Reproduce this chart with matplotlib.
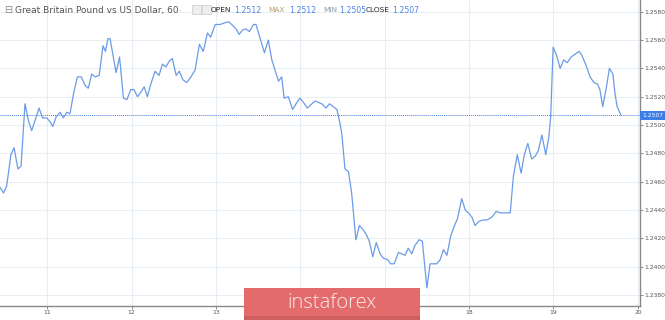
import matplotlib.pyplot as plt
import matplotlib.transforms as mtransforms
from matplotlib.patches import Rectangle

# Hourly GBP/USD quotes (hours counted from the start of day 11, weekend removed)
hours = [-13.4, -12.4, -11.5, -10.3, -9.4, -8.3, -7.4, -6.3, -5.3, -4.4, -3.2, -2.3, -1.3, -0.1,
         0.9, 1.6, 2.6, 3.7, 4.6, 5.6, 6.5, 7.5, 8.6, 9.7, 10.8, 11.7, 12.7, 13.6, 14.8, 15.9,
         16.6, 17.3, 17.9, 18.9, 19.6, 20.6, 21.7, 22.7, 23.8, 24.7, 25.7, 26.6, 27.6, 28.5,
         29.5, 30.7, 31.8, 32.8, 33.8, 34.7, 35.6, 36.7, 37.6, 38.6, 39.7, 40.9, 42.1, 43.3,
         44.4, 45.6, 46.5, 47.8, 49.2, 50.3, 51.6, 52.5, 53.7, 54.6, 55.5, 56.5, 57.5, 58.7,
         59.4, 60.6, 61.8, 62.9, 63.9, 64.8, 65.8, 66.7, 67.4, 68.6, 69.8, 70.8, 71.9, 72.9,
         74.0, 75.3, 76.2, 77.1, 78.1, 79.3, 80.3, 81.4, 82.4, 83.3, 83.8, 84.7, 85.7, 86.6,
         87.8, 88.8, 89.9, 90.9, 91.6, 92.6, 93.6, 94.7, 95.6, 96.8, 97.7, 98.7, 99.9, 100.9,
         101.8, 102.7, 103.7, 104.6, 105.8, 106.7, 108.0, 108.9, 110.8, 111.8, 112.7, 113.7,
         114.8, 115.7, 116.7, 117.9, 118.9, 119.8, 120.8, 121.7, 122.8, 124.1, 125.2, 126.5,
         127.7, 128.8, 130.2, 131.7, 132.6, 133.7, 134.8, 135.7, 136.7, 137.8, 138.8, 139.7,
         140.7, 141.8, 142.7, 143.2, 143.9, 144.9, 145.9, 146.9, 147.9, 149.0, 150.1, 151.3,
         152.1, 153.3, 154.4, 155.5, 156.5, 157.2, 158.0, 159.0, 159.9, 160.9, 161.5, 162.1,
         162.8, 163.2]
prices = [1.2456, 1.2452, 1.2457, 1.2479, 1.2484, 1.2469, 1.2471, 1.2515, 1.2503, 1.2496,
          1.2505, 1.2512, 1.2505, 1.2505, 1.2502, 1.2499, 1.2506, 1.2509, 1.2505, 1.2509,
          1.2508, 1.2522, 1.2534, 1.2534, 1.2528, 1.2526, 1.2536, 1.2534, 1.2535, 1.2556,
          1.2552, 1.2561, 1.2561, 1.2547, 1.2537, 1.2548, 1.2519, 1.2518, 1.2525, 1.2525,
          1.2520, 1.2523, 1.2527, 1.2520, 1.2529, 1.2538, 1.2535, 1.2543, 1.2541, 1.2545,
          1.2547, 1.2535, 1.2538, 1.2532, 1.2530, 1.2534, 1.2539, 1.2557, 1.2552, 1.2565,
          1.2562, 1.2571, 1.2571, 1.2572, 1.2573, 1.2571, 1.2568, 1.2564, 1.2567, 1.2568,
          1.2566, 1.2571, 1.2571, 1.2561, 1.2551, 1.2560, 1.2546, 1.2539, 1.2531, 1.2534,
          1.2519, 1.2520, 1.2511, 1.2515, 1.2519, 1.2516, 1.2512, 1.2515, 1.2517, 1.2516,
          1.2515, 1.2512, 1.2515, 1.2513, 1.2511, 1.2501, 1.2494, 1.2469, 1.2467, 1.2452,
          1.2419, 1.2429, 1.2426, 1.2422, 1.2418, 1.2407, 1.2417, 1.2409, 1.2406, 1.2405,
          1.2402, 1.2402, 1.2410, 1.2409, 1.2408, 1.2413, 1.2409, 1.2415, 1.2419, 1.2418,
          1.2385, 1.2402, 1.2402, 1.2405, 1.2412, 1.2408, 1.2422, 1.2428, 1.2434, 1.2448,
          1.2440, 1.2438, 1.2435, 1.2429, 1.2432, 1.2433, 1.2433, 1.2435, 1.2439, 1.2438,
          1.2438, 1.2438, 1.2464, 1.2479, 1.2466, 1.2479, 1.2487, 1.2476, 1.2478, 1.2482,
          1.2493, 1.2479, 1.2492, 1.2506, 1.2555, 1.2549, 1.2540, 1.2546, 1.2544, 1.2548,
          1.2550, 1.2552, 1.2549, 1.2542, 1.2534, 1.2530, 1.2529, 1.2525, 1.2513, 1.2526,
          1.2540, 1.2536, 1.2522, 1.2513, 1.2509, 1.2507]

day_ticks = [0, 24, 48, 72, 96, 120, 144, 168]
day_labels = ["11", "12", "13", "14", "17", "18", "19", "20"]
hidden_days = ["14", "17"]  # covered by the logo in the original
price_ticks = [1.2380, 1.2400, 1.2420, 1.2440, 1.2460, 1.2480, 1.2500,
               1.2520, 1.2540, 1.2560, 1.2580]
last_price = 1.2507
header_values = ["1.2512", "1.2512", "1.2505", "1.2507"]

line_color = "#6b9be6"
grid_color = "#e8eef4"
text_gray = "#555555"

fig = plt.figure(figsize=(6.65, 3.2), dpi=100)
ax = fig.add_axes([0.0, 0.04375, 0.9624, 0.95625])

ax.plot(hours, prices, color=line_color, linewidth=0.9, zorder=3)

# last price dotted line
ax.axhline(last_price, color="#4a7fe0", linestyle=(0, (1, 1)), linewidth=0.7, zorder=2)

ax.set_xlim(-13.4, 168.6)
ax.set_ylim(1.23722, 1.25883)

ax.set_xticks(day_ticks)
ax.set_xticklabels(day_labels)
for lbl in ax.get_xticklabels():
    if lbl.get_text() in hidden_days:
        lbl.set_visible(False)
ax.set_yticks(price_ticks)
ax.set_yticklabels(["%.4f" % p for p in price_ticks])
ax.yaxis.tick_right()
ax.tick_params(axis="both", labelsize=4.3, colors="#777777", length=2, width=0.6,
               labelcolor=text_gray, pad=1)

ax.grid(True, color=grid_color, linewidth=0.8, zorder=0)
ax.set_axisbelow(True)

for side in ["top", "left"]:
    ax.spines[side].set_visible(False)
for side in ["right", "bottom"]:
    ax.spines[side].set_color("#888888")
    ax.spines[side].set_linewidth(1.0)

# price label on the right axis
trans = mtransforms.blended_transform_factory(ax.transAxes, ax.transData)
ax.text(1.003, last_price, "1.2507", transform=trans, fontsize=4.3, color="white",
        va="center", ha="left", clip_on=False, zorder=5,
        bbox=dict(boxstyle="square,pad=0.35", facecolor="#3d7ee6", edgecolor="none"))

# header
fig.text(0.006, 0.968, "\u229f", fontsize=7, color="#888888", va="center", ha="left")
fig.text(0.022, 0.968, "Great Britain Pound vs US Dollar, 60", fontsize=6.5,
         color=text_gray, va="center", ha="left")
fig.text(0.268, 0.968, "-", fontsize=5, color="#aaaaaa", va="center", ha="left")
fig.patches.append(Rectangle((0.289, 0.955), 0.013, 0.028, transform=fig.transFigure,
                             facecolor="#eeeeee", edgecolor="#cccccc", linewidth=0.5))
fig.patches.append(Rectangle((0.304, 0.955), 0.013, 0.028, transform=fig.transFigure,
                             facecolor="#eeeeee", edgecolor="#cccccc", linewidth=0.5))

header_names = ["OPEN", "MAX", "MIN", "CLOSE"]
name_colors = ["#222222", "#b59a6a", "#8899aa", "#222222"]
name_x = [211, 268, 323, 366]
value_x = [234, 289, 339, 392]
for name, col, nx, vx, val in zip(header_names, name_colors, name_x, value_x, header_values):
    fig.text(nx / 665, 0.968, name, fontsize=5.3, color=col, va="center", ha="left")
    fig.text(vx / 665, 0.968, val, fontsize=5.6, color="#4a86e8", va="center", ha="left")

# watermark logo
logo = fig.add_axes([244 / 665, 0.0, 176 / 665, 32 / 320], zorder=10)
logo.set_xlim(0, 1)
logo.set_ylim(0, 1)
logo.axis("off")
logo.add_patch(Rectangle((0, 0), 1, 1, facecolor="#e36b6b", edgecolor="none"))
logo.add_patch(Rectangle((0, 0), 1, 0.12, facecolor="#cf5e5e", edgecolor="none"))
logo.text(0.5, 0.52, "instaforex", fontsize=14.5, color="#fbeaea", ha="center", va="center",
          family="Open Sans", fontweight="light")

plt.savefig("out.png", dpi=100)
